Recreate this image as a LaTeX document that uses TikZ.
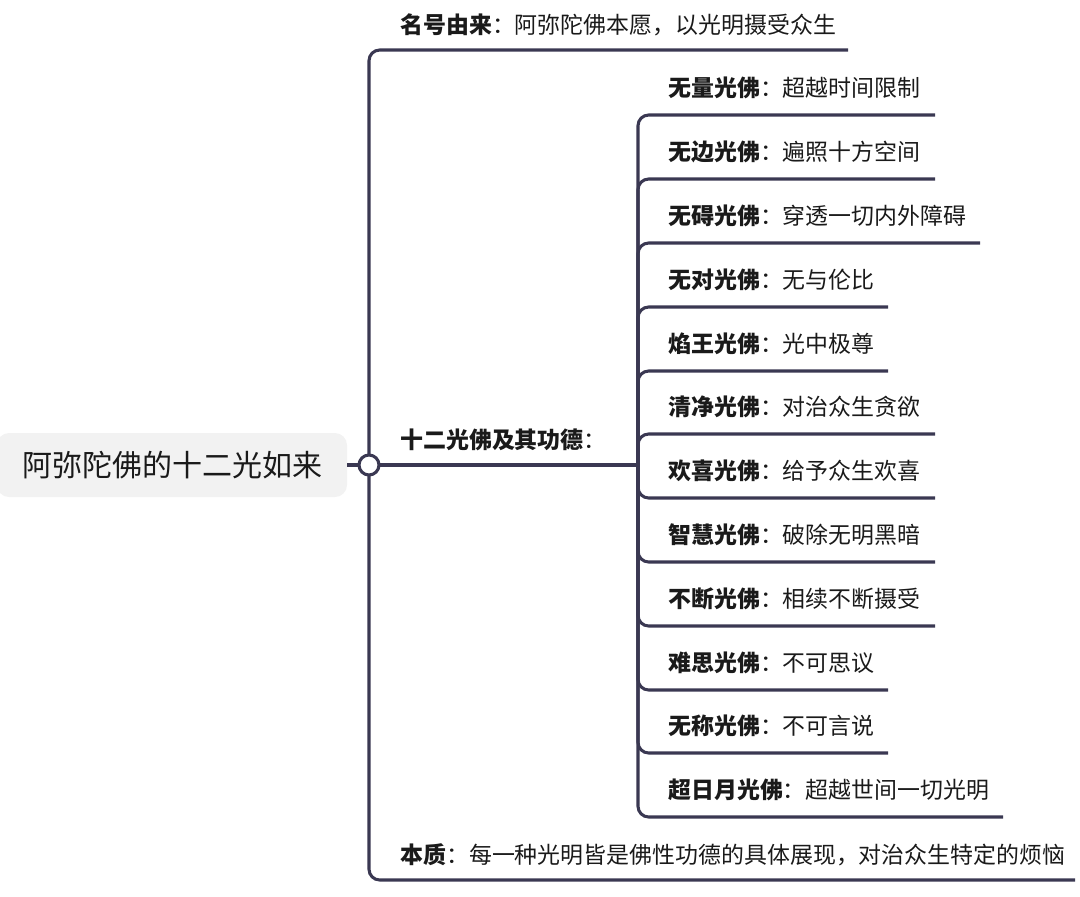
\documentclass[tikz,border=0pt]{standalone}
\usepackage{fontspec}
\setmainfont{Noto Sans CJK SC}
\definecolor{lineC}{HTML}{3A3852}
\definecolor{rootF}{HTML}{F2F2F2}
\definecolor{txtC}{HTML}{1A1A1A}
\begin{document}
\begin{tikzpicture}[x=0.75pt,y=-0.75pt,
  conn/.style={draw=lineC,line width=2.3pt,rounded corners=8pt},
  rootbox/.style={fill=rootF,rounded corners=9pt,minimum width=262.5pt,minimum height=48pt,inner sep=0pt,font=\fontsize{22.5}{25}\selectfont,text=txtC},
  lab/.style={anchor=west,inner sep=0pt,font=\fontsize{17.2}{20}\selectfont,text=txtC},
  hubc/.style={circle,draw=lineC,line width=2.3pt,fill=white,minimum size=15pt,inner sep=0pt}]
\useasboundingbox (0,0) rectangle (1080,896);
\node[rootbox] (root) at (172,465) {阿弥陀佛的十二光如来};
\coordinate (hub) at (369,465);
% main branch ends
\coordinate (e1) at (848,50);
\coordinate (e2) at (638,465);
\coordinate (e3) at (1075,880);
\draw[conn] (hub) |- (e1);
\draw[conn] (hub) |- (e3);
\draw[conn] (hub) -- (e2);
\draw[conn] (root.east) -- (hub);
\node[hubc] (hubn) at (hub) {};
\node[lab] (t1) at (400,25) {\textbf{名号由来}：阿弥陀佛本愿，以光明摄受众生};
\node[lab] (t2) at (400,440) {\textbf{十二光佛及其功德}：};
\node[lab] (t3) at (400,855) {\textbf{本质}：每一种光明皆是佛性功德的具体展现，对治众生特定的烦恼};
% children
\foreach \i/\y/\ex/\a/\b in {
 1/88/935/无量光佛/超越时间限制,
 2/152/935/无边光佛/遍照十方空间,
 3/216/980/无碍光佛/穿透一切内外障碍,
 4/280/888/无对光佛/无与伦比,
 5/344/888/焰王光佛/光中极尊,
 6/407/935/清净光佛/对治众生贪欲,
 7/471/935/欢喜光佛/给予众生欢喜,
 8/535/935/智慧光佛/破除无明黑暗,
 9/599/935/不断光佛/相续不断摄受,
 10/663/888/难思光佛/不可思议,
 11/726/888/无称光佛/不可言说,
 12/790/1003/超日月光佛/超越世间一切光明}{
  \node[lab] (c\i) at (668,\y) {\textbf{\a}：\b};
  \coordinate (u\i) at (\ex,\y+27);
  \draw[conn] (e2) |- (u\i);
}
\end{tikzpicture}
\end{document}
